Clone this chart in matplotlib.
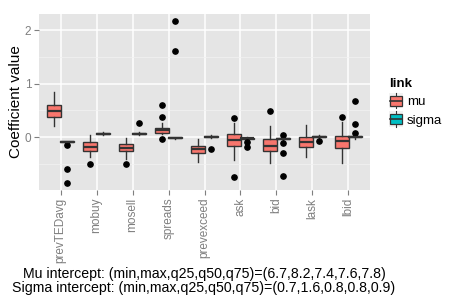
import matplotlib
matplotlib.use("Agg")
import matplotlib.pyplot as plt
from matplotlib.patches import Patch
from matplotlib.lines import Line2D
from matplotlib.legend_handler import HandlerBase
import matplotlib.patches as mpatches

plt.rcParams['font.family'] = ['Liberation Sans', 'DejaVu Sans']

categories = ["prevTEDavg", "mobuy", "mosell", "spreads", "prevexceed",
              "ask", "bid", "lask", "lbid"]

# mu stats: whislo, q1, med, q3, whishi
mu_whislo = [0.21, -0.37, -0.41, 0.05, -0.47, -0.43, -0.49, -0.37, -0.49]
mu_q1     = [0.38, -0.26, -0.26, 0.08, -0.30, -0.16, -0.27, -0.19, -0.20]
mu_med    = [0.48, -0.18, -0.20, 0.125, -0.23, -0.06, -0.16, -0.09, -0.08]
mu_q3     = [0.59, -0.10, -0.13, 0.16, -0.16, 0.05, -0.04, 0.00, 0.02]
mu_whishi = [0.84, 0.04, -0.02, 0.27, -0.03, 0.26, 0.21, 0.22, 0.29]
mu_fliers = [[], [-0.51], [-0.50], [0.59, 0.37, -0.03], [], [0.36, -0.75],
             [0.49], [], [0.37]]

# sigma stats
sg_whislo = [-0.11, 0.03, 0.03, -0.03, -0.01, -0.04, -0.05, -0.01, -0.03]
sg_q1     = [-0.10, 0.05, 0.05, -0.02, 0.00, -0.03, -0.04, 0.00, 0.00]
sg_med    = [-0.09, 0.06, 0.06, -0.01, 0.01, -0.02, -0.03, 0.01, 0.01]
sg_q3     = [-0.08, 0.07, 0.07, 0.00, 0.02, -0.01, -0.02, 0.02, 0.02]
sg_whishi = [-0.07, 0.10, 0.10, 0.01, 0.03, 0.01, 0.00, 0.04, 0.04]
sg_fliers = [[-0.14, -0.60, -0.85], [], [0.26], [2.16, 1.60], [-0.23],
             [-0.09, -0.19], [0.04, -0.12, -0.30, -0.73], [-0.08],
             [0.67, 0.24, 0.07]]

y_ticks = [0, 1, 2]
legend_title = "link"
links = ["mu", "sigma"]
colors = {"mu": "#F8766D", "sigma": "#00BFC4"}

note_lines = ["Mu intercept: (min,max,q25,q50,q75)=(6.7,8.2,7.4,7.6,7.8)",
              "Sigma intercept: (min,max,q25,q50,q75)=(0.7,1.6,0.8,0.8,0.9)"]

fig = plt.figure(figsize=(4.65, 3.04), dpi=100)
ax = fig.add_axes([39/465, 1-190/304, (370-39)/465, (190-14)/304])
ax.set_facecolor("#E5E5E5")

def make_stats(lo, q1, med, q3, hi, fl):
    out = []
    for i in range(len(lo)):
        out.append(dict(whislo=lo[i], q1=q1[i], med=med[i], q3=q3[i],
                        whishi=hi[i], fliers=fl[i]))
    return out

pos = list(range(1, len(categories) + 1))
off = 0.18
w = 0.38
for name, stats, sgn in [("mu", make_stats(mu_whislo, mu_q1, mu_med, mu_q3, mu_whishi, mu_fliers), -1),
                         ("sigma", make_stats(sg_whislo, sg_q1, sg_med, sg_q3, sg_whishi, sg_fliers), 1)]:
    ax.bxp(stats, positions=[p + sgn*off for p in pos], widths=w,
           patch_artist=True, showcaps=False, manage_ticks=False,
           boxprops=dict(facecolor=colors[name], edgecolor="#333333", linewidth=1.0),
           whiskerprops=dict(color="#333333", linewidth=1.0),
           medianprops=dict(color="#333333", linewidth=1.6),
           flierprops=dict(marker="o", markerfacecolor="black",
                           markeredgecolor="black", markersize=3.8, linestyle="none"),
           zorder=3)

ax.set_xlim(0.4, 9.6)
ax.set_ylim(-0.99, 2.3)
ax.set_xticks(pos)
ax.set_xticklabels(categories, rotation=90, color="#7F7F7F", fontsize=8.5)
ax.set_yticks(y_ticks)
ax.set_yticklabels([str(t) for t in y_ticks], color="#7F7F7F", fontsize=8.5)
ax.set_yticks([-0.5, 0.5, 1.5], minor=True)
ax.grid(True, which="major", color="white", linewidth=1.1, zorder=0)
ax.grid(True, which="minor", axis="y", color="#F2F2F2", linewidth=0.5, zorder=0)
ax.set_axisbelow(True)
for s in ax.spines.values():
    s.set_visible(False)
ax.tick_params(axis="both", which="major", length=3.5, color="#7F7F7F", width=0.8, pad=2)
ax.tick_params(axis="y", which="minor", length=0)
ax.set_ylabel("Coefficient value", fontsize=11, labelpad=1)

class BoxHandler(HandlerBase):
    def create_artists(self, legend, orig_handle, xdescent, ydescent, width, height, fontsize, trans):
        bg = mpatches.Rectangle((-xdescent, -ydescent - 2), width, height + 4,
                                facecolor="#F2F2F2", edgecolor="none", transform=trans)
        cx = -xdescent + width/2
        wl = Line2D([cx, cx], [-ydescent - 2, -ydescent + height + 2], color="#333333", lw=0.8, transform=trans)
        box = mpatches.Rectangle((-xdescent + 1, -ydescent), width - 2, height,
                                 facecolor=orig_handle.get_facecolor(), edgecolor="#333333", lw=0.9, transform=trans)
        med = Line2D([-xdescent + 1, -xdescent + width - 1], [-ydescent + height/2]*2,
                     color="#333333", lw=1.2, transform=trans)
        return [bg, wl, box, med]

handles = [Patch(facecolor=colors[l]) for l in links]
leg = fig.legend(handles, links, title=legend_title, loc="upper left",
                 bbox_to_anchor=(386/465, 1-75/304), frameon=False,
                 handler_map={Patch: BoxHandler()}, fontsize=9.5,
                 handlelength=1.1, handleheight=0.8, handletextpad=0.3,
                 labelspacing=0.45, borderaxespad=0, borderpad=0.2)
leg.get_title().set_fontweight("bold")
leg.get_title().set_fontsize(9.5)
leg._legend_box.align = "left"

t1 = fig.text(204/465, 1-274/304, note_lines[0], ha="center", va="center", fontsize=9.4)
t2 = fig.text(204/465, 1-288/304, note_lines[1], ha="center", va="center", fontsize=9.4)

# fit the longer note line to the reference width (~380 px)
fig.canvas.draw()
r = fig.canvas.get_renderer()
wpx = t2.get_window_extent(renderer=r).width
fs = 9.4 * 380.0 / wpx
t1.set_fontsize(fs)
t2.set_fontsize(fs)

fig.savefig("out.png", dpi=100)
